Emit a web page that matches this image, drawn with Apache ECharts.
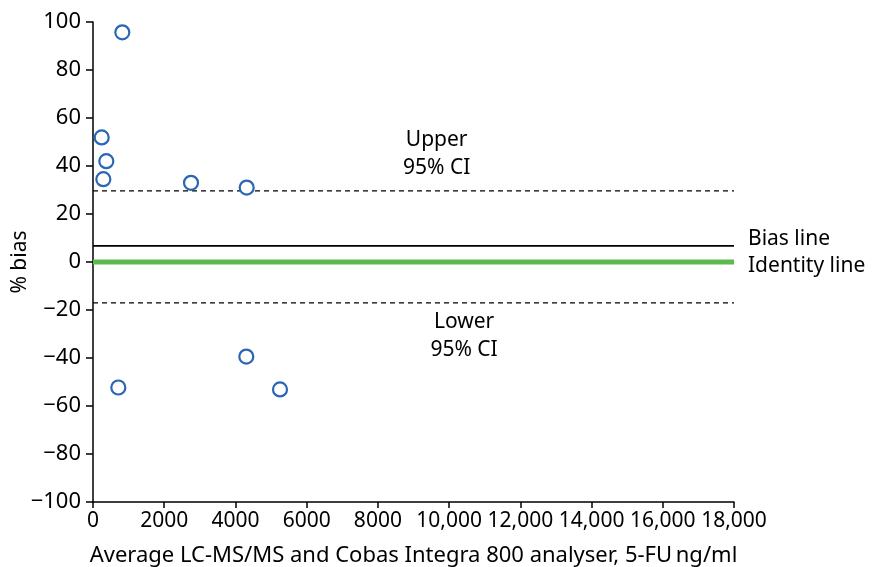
<!DOCTYPE html>
<html>
<head>
<meta charset="utf-8">
<script src="https://cdn.jsdelivr.net/npm/echarts@6/dist/echarts.min.js"></script>
<style>
  html, body { margin: 0; padding: 0; background: #fff; }
  #chart { width: 876px; height: 567px; }
</style>
</head>
<body>
<div id="chart"></div>
<script>
// Bland–Altman style comparison: % bias vs. average concentration (5-FU, ng/ml)
const avgConc = [823, 244, 374, 290, 2752, 4316, 711, 4305, 5251];
const pctBias = [95.7, 51.9, 42.0, 34.5, 33.0, 31.0, -52.3, -39.4, -53.1];

const biasLine = 6.7;
const identityLine = 0;
const upperCI = 29.6;
const lowerCI = -17.0;

const xTicks = { min: 0, max: 18000, interval: 2000 };
const yTicks = { min: -100, max: 100, interval: 20 };

// Text annotations anchored in data space
const upperLabelPos = [9650, 44.8];
const lowerLabelPos = [10420, -30.9];

const FONT = '"Noto Sans", "Open Sans", sans-serif';
const chart = echarts.init(document.getElementById('chart'));

function hline(y, color, width, type) {
  return {
    type: 'line',
    data: [[xTicks.min, y], [xTicks.max, y]],
    symbol: 'none',
    silent: true,
    z: 2,
    lineStyle: { color: color, width: width, type: type }
  };
}

function textMark(pos, text, position, offset) {
  return {
    type: 'scatter',
    data: [pos],
    symbolSize: 0,
    silent: true,
    z: 5,
    itemStyle: { opacity: 1 },
    label: {
      show: true,
      formatter: text,
      position: position,
      distance: 14,
      offset: offset,
      color: '#000',
      fontFamily: FONT,
      fontSize: 21,
      lineHeight: 28,
      align: position === 'inside' ? 'center' : 'left'
    }
  };
}

chart.setOption({
  animation: false,
  backgroundColor: '#fff',
  grid: { left: 93, right: 142, top: 22, bottom: 65, containLabel: false, outerBoundsMode: 'none' },
  xAxis: {
    type: 'value',
    min: xTicks.min, max: xTicks.max, interval: xTicks.interval,
    name: 'Average LC-MS/MS and Cobas Integra 800 analyser, 5-FU\u2009ng/ml',
    nameLocation: 'middle',
    nameGap: 43,
    nameMoveOverlap: false,
    nameTextStyle: { color: '#000', fontFamily: FONT, fontSize: 22 },
    axisLine: { onZero: false, lineStyle: { color: '#000', width: 1.5 } },
    axisTick: { show: true, length: 6, lineStyle: { color: '#000', width: 1.5 } },
    axisLabel: {
      color: '#000', fontFamily: FONT, fontSize: 21, margin: 9,
      formatter: v => v >= 10000 ? v.toLocaleString('en-US') : String(v)
    },
    splitLine: { show: false }
  },
  yAxis: {
    type: 'value',
    min: yTicks.min, max: yTicks.max, interval: yTicks.interval,
    name: '% bias',
    nameLocation: 'middle',
    nameGap: 62,
    nameRotate: 90,
    nameMoveOverlap: false,
    nameTextStyle: { color: '#000', fontFamily: FONT, fontSize: 21 },
    axisLine: { onZero: false, lineStyle: { color: '#000', width: 1.5 } },
    axisTick: { show: true, length: 7, lineStyle: { color: '#000', width: 1.5 } },
    axisLabel: {
      color: '#000', fontFamily: FONT, fontSize: 22, margin: 12,
      formatter: v => String(v).replace('-', '\u2212')
    },
    splitLine: { show: false }
  },
  series: [
    hline(upperCI, '#000', 1.2, [5, 4]),
    hline(lowerCI, '#000', 1.2, [5, 4]),
    hline(biasLine, '#000', 1.8, 'solid'),
    hline(identityLine, '#5cb950', 5, 'solid'),
    {
      type: 'scatter',
      data: avgConc.map((x, i) => [x, pctBias[i]]),
      symbol: 'circle',
      symbolSize: 14,
      z: 4,
      itemStyle: { color: '#fff', borderColor: '#2a66b3', borderWidth: 2.2, opacity: 1 }
    },
    textMark(upperLabelPos, 'Upper\n95% CI', 'inside', [0, 0]),
    textMark(lowerLabelPos, 'Lower\n95% CI', 'inside', [0, 0]),
    textMark([xTicks.max, biasLine], 'Bias line', 'right', [0, -7]),
    textMark([xTicks.max, identityLine], 'Identity line', 'right', [0, 4])
  ]
});
</script>
</body>
</html>
